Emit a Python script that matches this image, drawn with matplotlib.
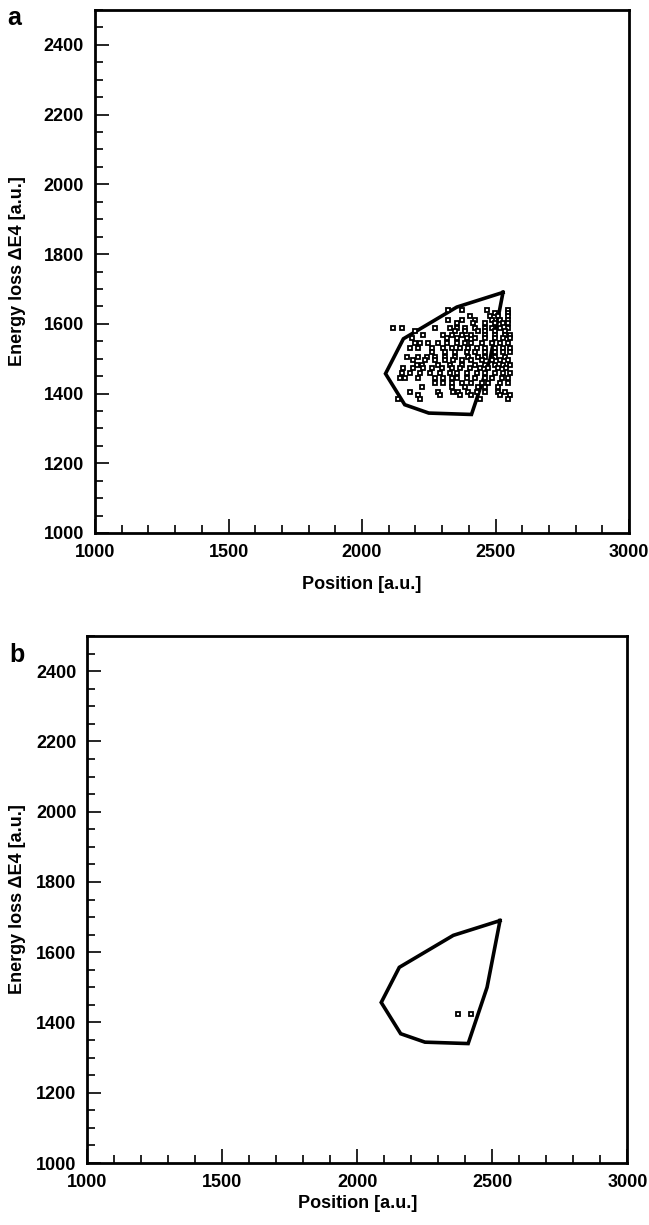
"""
Energy loss vs position, gate polygon with events (panels a and b).
"""

import matplotlib
matplotlib.use("Agg")
import matplotlib.pyplot as plt
from matplotlib.ticker import MultipleLocator

plt.rcParams['font.family'] = ['Liberation Sans', 'DejaVu Sans']
plt.rcParams['font.weight'] = 'bold'

# gate polygon (same in both panels)
gate_x = [2528, 2355, 2155, 2088, 2160, 2250, 2410, 2480, 2528]
gate_y = [1690, 1648, 1557, 1457, 1368, 1344, 1340, 1500, 1690]

# panel a events, one row per energy-loss bin
rows_a = {
    1640: [2323, 2373, 2467, 2548],
    1630: [2498, 2548],
    1623: [2404, 2479, 2510, 2548],
    1611: [2323, 2373, 2423, 2485, 2517, 2548],
    1601: [2354, 2417, 2460, 2498, 2529, 2548],
    1587: [2117, 2148, 2273, 2329, 2354, 2386, 2423, 2460, 2485, 2517, 2548],
    1578: [2198, 2348, 2386, 2435, 2460, 2498, 2535],
    1568: [2230, 2304, 2336, 2373, 2410, 2460, 2498, 2535, 2554],
    1558: [2186, 2317, 2354, 2392, 2423, 2460, 2498, 2529, 2554],
    1544: [2198, 2217, 2248, 2286, 2317, 2354, 2386, 2410, 2448, 2485, 2517, 2548],
    1530: [2180, 2211, 2261, 2304, 2336, 2367, 2398, 2429, 2460, 2498, 2529, 2554],
    1520: [2261, 2311, 2348, 2392, 2423, 2460, 2498, 2529, 2554],
    1506: [2167, 2211, 2242, 2273, 2311, 2348, 2398, 2435, 2460, 2498, 2535],
    1496: [2192, 2236, 2273, 2311, 2342, 2373, 2410, 2448, 2485, 2517, 2548],
    1482: [2205, 2223, 2286, 2329, 2373, 2423, 2460, 2498, 2529, 2554],
    1472: [2155, 2192, 2230, 2261, 2298, 2336, 2367, 2404, 2442, 2473, 2510, 2541],
    1458: [2148, 2180, 2217, 2254, 2292, 2329, 2354, 2392, 2429, 2460, 2498, 2529, 2554],
    1444: [2142, 2161, 2211, 2273, 2304, 2336, 2354, 2392, 2423, 2460, 2485, 2523, 2548],
    1429: [2273, 2304, 2336, 2373, 2410, 2448, 2473, 2517, 2548],
    1420: [2223, 2336, 2386, 2435, 2460, 2510],
    1405: [2180, 2286, 2342, 2361, 2398, 2429, 2460, 2510, 2535],
    1396: [2211, 2292, 2367, 2410, 2517, 2554],
    1384: [2136, 2217, 2442, 2548],
}
ev_a_x = [x for y, xs in rows_a.items() for x in xs]
ev_a_y = [y for y, xs in rows_a.items() for x in xs]

# panel b events
ev_b_x = [2373, 2419]
ev_b_y = [1424, 1424]

W, H = 649, 1225


def draw_panel(fig, ax, ex, ey, letter, letter_px, xpad):
    ax.plot(gate_x, gate_y, color='black', lw=2.6, solid_joinstyle='miter')
    ax.plot(ex, ey, 's', ms=3.3, mfc='white', mec='black', mew=1.3, ls='none')
    ax.set_xlim(1000, 3000)
    ax.set_ylim(1000, 2500)
    ax.xaxis.set_major_locator(MultipleLocator(500))
    ax.xaxis.set_minor_locator(MultipleLocator(100))
    ax.yaxis.set_major_locator(MultipleLocator(200))
    ax.yaxis.set_minor_locator(MultipleLocator(50))
    ax.tick_params(which='both', direction='in', top=False, right=False,
                   width=1.2, labelsize=13, pad=8)
    ax.tick_params(which='major', length=10)
    ax.tick_params(which='minor', length=5.5)
    for s in ax.spines.values():
        s.set_linewidth(2)
    ax.set_xlabel("Position [a.u.]", fontsize=13, fontweight='bold', labelpad=xpad)
    ax.set_ylabel("Energy loss \u0394E4 [a.u.]", fontsize=13, fontweight='bold')
    pos = ax.get_position()
    ax.yaxis.set_label_coords(26 / W, pos.y0 + pos.height / 2,
                              transform=fig.transFigure)
    fig.text(letter_px[0] / W, 1 - letter_px[1] / H, letter, fontsize=18,
             fontweight='bold', va='center', ha='left')


fig = plt.figure(figsize=(W / 100, H / 100), dpi=100)
ax_a = fig.add_axes([0.1464, 0.5649, 0.8228, 0.4269])
ax_b = fig.add_axes([0.1348, 0.0506, 0.8320, 0.4302])
draw_panel(fig, ax_a, ev_a_x, ev_a_y, 'a', (7, 18), 11)
draw_panel(fig, ax_b, ev_b_x, ev_b_y, 'b', (9, 655), 3)

fig.savefig("out.png", dpi=100)
